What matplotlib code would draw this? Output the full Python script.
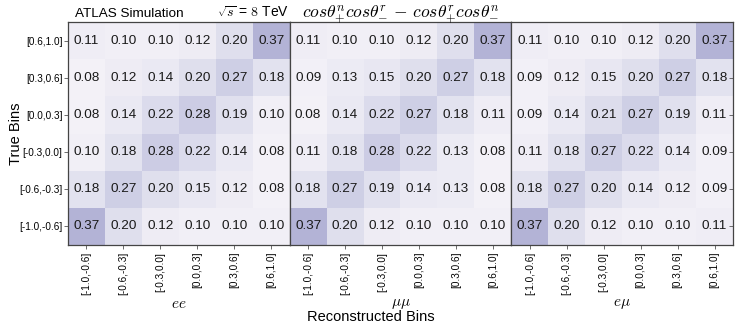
import numpy as np
import matplotlib
matplotlib.use("Agg")
import matplotlib.pyplot as plt

plt.rcParams['font.family'] = ['Liberation Sans', 'DejaVu Sans']
plt.rcParams['mathtext.fontset'] = 'cm'

bins = ["[-1.0,-0.6]", "[-0.6,-0.3]", "[-0.3,0.0]", "[0.0,0.3]", "[0.3,0.6]", "[0.6,1.0]"]
channels = [r"$ee$", r"$\mu\mu$", r"$e\mu$"]

# rows listed from top (true [0.6,1.0]) to bottom (true [-1.0,-0.6])
ee = [
    [0.11, 0.10, 0.10, 0.12, 0.20, 0.37],
    [0.08, 0.12, 0.14, 0.20, 0.27, 0.18],
    [0.08, 0.14, 0.22, 0.28, 0.19, 0.10],
    [0.10, 0.18, 0.28, 0.22, 0.14, 0.08],
    [0.18, 0.27, 0.20, 0.15, 0.12, 0.08],
    [0.37, 0.20, 0.12, 0.10, 0.10, 0.10],
]
mumu = [
    [0.11, 0.10, 0.10, 0.12, 0.20, 0.37],
    [0.09, 0.13, 0.15, 0.20, 0.27, 0.18],
    [0.08, 0.14, 0.22, 0.27, 0.18, 0.11],
    [0.11, 0.18, 0.28, 0.22, 0.13, 0.08],
    [0.18, 0.27, 0.19, 0.14, 0.13, 0.08],
    [0.37, 0.20, 0.12, 0.10, 0.10, 0.10],
]
emu = [
    [0.11, 0.10, 0.10, 0.12, 0.20, 0.37],
    [0.09, 0.12, 0.15, 0.20, 0.27, 0.18],
    [0.09, 0.14, 0.21, 0.27, 0.19, 0.11],
    [0.11, 0.18, 0.27, 0.22, 0.14, 0.09],
    [0.18, 0.27, 0.20, 0.14, 0.12, 0.09],
    [0.37, 0.20, 0.12, 0.10, 0.10, 0.11],
]
matrices = [ee, mumu, emu]

fig = plt.figure(figsize=(7.42, 3.30), dpi=100)
L, R, T, B = 68/742, 733/742, 1-22/330, 1-245/330
w = (R - L) / 3
axes = []
for i, (m, ch) in enumerate(zip(matrices, channels)):
    ax = fig.add_axes([L + i*w, B, w, T - B])
    arr = np.array(m)[::-1]  # bottom row first
    ax.pcolormesh(np.arange(7), np.arange(7), arr, cmap='Purples', vmin=0, vmax=0.9)
    for r in range(6):
        for c in range(6):
            ax.text(c + 0.5, r + 0.5, f"{arr[r, c]:.2f}", ha='center', va='center',
                    fontsize=9.7, color='#1a1a1a')
    ax.set_xlim(0, 6)
    ax.set_ylim(0, 6)
    ax.set_xticks(np.arange(6) + 0.5)
    ax.set_xticklabels(bins, rotation=90, fontsize=7.2)
    ax.set_yticks(np.arange(6) + 0.5)
    if i == 0:
        ax.set_yticklabels(bins, fontsize=7.2)
        ax.tick_params(axis='y', length=3, width=0.6, color='#555555', pad=1)
    elif i == 2:
        ax.yaxis.tick_right()
        ax.set_yticklabels([])
        ax.tick_params(axis='y', direction='in', length=3, width=0.6, color='#555555')
    else:
        ax.tick_params(axis='y', length=0)
        ax.set_yticklabels([])
    ax.tick_params(axis='x', length=3, width=0.6, color='#555555', pad=2)
    for s in ax.spines.values():
        s.set_color('#444444')
        s.set_linewidth(0.9)
    ax.set_xlabel(ch, fontsize=11, labelpad=1)
    axes.append(ax)

fig.text(0.5, 1 - 317/330, "Reconstructed Bins", ha='center', va='center', fontsize=10.5)
fig.text(0.012, (T + B) / 2, "True Bins", rotation=90, ha='left', va='center', fontsize=10.5)

fig.text(75/742, 1 - 17/330, "ATLAS Simulation", ha='left', va='baseline', fontsize=9.7)
fig.text(217/742, 1 - 17/330, r"$\sqrt{s}$ = $8$ TeV", ha='left', va='baseline', fontsize=10)
fig.text(302/742, 1 - 17/330,
         r"$cos\theta^{n}_{+}cos\theta^{r}_{-}\,-\,cos\theta^{r}_{+}cos\theta^{n}_{-}$",
         ha='left', va='baseline', fontsize=12.6)

fig.savefig("out.png", dpi=100)
